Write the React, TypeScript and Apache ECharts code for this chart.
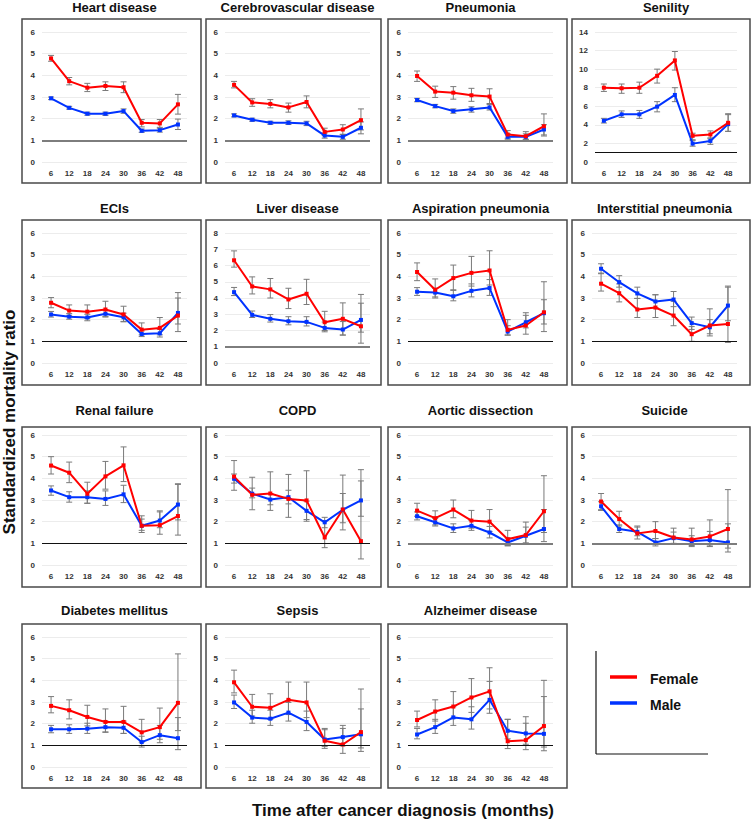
import React, { useEffect, useRef } from "react";
import * as echarts from "echarts";

// ---------- data ----------
const months = ["6", "12", "18", "24", "30", "36", "42", "48"];

// each point: [SMR, lower 95% CI, upper 95% CI]
const heartF = [[4.78, 4.65, 4.92], [3.73, 3.56, 3.9], [3.43, 3.25, 3.63], [3.51, 3.3, 3.7], [3.45, 3.2, 3.7], [1.81, 1.62, 1.96], [1.78, 1.6, 1.96], [2.66, 2.21, 3.12]];
const heartM = [[2.94, 2.88, 3.0], [2.5, 2.44, 2.57], [2.23, 2.16, 2.3], [2.23, 2.15, 2.3], [2.35, 2.25, 2.45], [1.44, 1.37, 1.52], [1.47, 1.38, 1.56], [1.73, 1.5, 1.98]];
const cerebroF = [[3.56, 3.42, 3.72], [2.75, 2.57, 2.92], [2.68, 2.5, 2.88], [2.52, 2.3, 2.72], [2.77, 2.5, 3.05], [1.39, 1.22, 1.56], [1.5, 1.28, 1.72], [1.93, 1.48, 2.45]];
const cerebroM = [[2.15, 2.08, 2.22], [1.95, 1.88, 2.02], [1.81, 1.74, 1.88], [1.81, 1.73, 1.9], [1.78, 1.68, 1.88], [1.22, 1.1, 1.34], [1.16, 1.05, 1.27], [1.58, 1.3, 1.85]];
const pneumoniaF = [[3.97, 3.72, 4.2], [3.25, 2.98, 3.5], [3.2, 2.9, 3.48], [3.08, 2.8, 3.4], [3.02, 2.7, 3.38], [1.27, 1.1, 1.45], [1.19, 1.05, 1.4], [1.65, 1.2, 2.22]];
const pneumoniaM = [[2.86, 2.78, 2.94], [2.58, 2.5, 2.66], [2.35, 2.25, 2.45], [2.43, 2.3, 2.55], [2.52, 2.4, 2.65], [1.16, 1.05, 1.3], [1.16, 1.03, 1.3], [1.5, 1.25, 1.72]];
const senilityF = [[8.0, 7.6, 8.4], [7.94, 7.4, 8.4], [8.0, 7.4, 8.6], [9.28, 8.5, 10.0], [10.94, 9.9, 11.9], [2.82, 2.4, 3.1], [2.96, 2.5, 3.35], [4.22, 3.3, 5.2]];
const senilityM = [[4.44, 4.2, 4.7], [5.13, 4.8, 5.5], [5.13, 4.7, 5.55], [5.96, 5.4, 6.5], [7.22, 6.5, 8.0], [1.98, 1.7, 2.3], [2.27, 1.9, 2.6], [4.08, 3.3, 5.1]];
const eciF = [[2.78, 2.55, 3.02], [2.42, 2.2, 2.68], [2.37, 2.05, 2.68], [2.47, 2.15, 2.85], [2.24, 1.9, 2.62], [1.54, 1.3, 1.85], [1.62, 1.3, 2.1], [2.19, 1.45, 3.25]];
const eciM = [[2.24, 2.12, 2.38], [2.14, 2.02, 2.28], [2.1, 1.95, 2.25], [2.27, 2.12, 2.42], [2.11, 1.92, 2.3], [1.34, 1.22, 1.48], [1.37, 1.2, 1.55], [2.31, 1.8, 3.0]];
const liverF = [[6.32, 5.9, 6.9], [4.71, 4.25, 5.3], [4.53, 4.0, 5.2], [3.91, 3.35, 4.6], [4.26, 3.6, 5.15], [2.51, 2.0, 3.18], [2.72, 1.72, 3.7], [2.26, 1.22, 4.22]];
const liverM = [[4.36, 4.15, 4.65], [2.96, 2.8, 3.2], [2.72, 2.52, 2.98], [2.57, 2.35, 2.85], [2.53, 2.28, 2.85], [2.16, 1.92, 2.52], [2.06, 1.72, 2.55], [2.65, 1.9, 3.68]];
const aspirationF = [[4.2, 3.8, 4.62], [3.38, 3.0, 3.88], [3.92, 3.35, 4.52], [4.16, 3.55, 4.92], [4.27, 3.6, 5.18], [1.53, 1.3, 2.0], [1.73, 1.33, 2.32], [2.34, 1.45, 3.75]];
const aspirationM = [[3.29, 3.12, 3.48], [3.25, 3.05, 3.45], [3.08, 2.87, 3.38], [3.33, 3.05, 3.65], [3.46, 3.12, 3.85], [1.45, 1.28, 1.72], [1.88, 1.62, 2.2], [2.3, 1.8, 2.92]];
const interstitialF = [[3.66, 3.32, 4.15], [3.22, 2.82, 3.65], [2.47, 2.1, 2.98], [2.56, 2.1, 3.15], [2.19, 1.72, 2.85], [1.33, 1.0, 1.68], [1.73, 1.25, 2.5], [1.8, 0.95, 3.5]];
const interstitialM = [[4.35, 4.12, 4.58], [3.73, 3.5, 4.03], [3.21, 2.98, 3.5], [2.84, 2.55, 3.15], [2.93, 2.6, 3.3], [1.84, 1.55, 2.12], [1.65, 1.35, 2.0], [2.65, 1.95, 3.55]];
const renalF = [[4.59, 4.2, 5.0], [4.26, 3.8, 4.75], [3.29, 2.85, 3.82], [4.09, 3.5, 4.78], [4.6, 3.85, 5.45], [1.81, 1.5, 2.27], [1.84, 1.42, 2.45], [2.26, 1.38, 3.75]];
const renalM = [[3.44, 3.22, 3.65], [3.13, 2.9, 3.38], [3.13, 2.85, 3.42], [3.05, 2.75, 3.42], [3.26, 2.88, 3.68], [1.81, 1.6, 2.12], [2.05, 1.72, 2.5], [2.79, 2.08, 3.72]];
const copdF = [[4.08, 3.45, 4.82], [3.24, 2.55, 4.05], [3.3, 2.52, 4.3], [3.05, 2.2, 4.18], [2.98, 2.02, 4.35], [1.27, 0.8, 2.05], [2.56, 1.62, 4.15], [1.1, 0.28, 4.4]];
const copdM = [[3.98, 3.78, 4.2], [3.29, 3.1, 3.55], [3.02, 2.78, 3.3], [3.13, 2.82, 3.45], [2.5, 2.1, 2.95], [1.97, 1.72, 2.2], [2.55, 1.95, 3.3], [2.98, 2.25, 3.88]];
const aorticF = [[2.51, 2.25, 2.85], [2.16, 1.85, 2.5], [2.56, 2.18, 3.0], [2.05, 1.7, 2.52], [2.0, 1.55, 2.56], [1.19, 0.9, 1.6], [1.38, 1.0, 1.98], [2.48, 1.5, 4.12]];
const aorticM = [[2.25, 2.08, 2.45], [1.97, 1.8, 2.15], [1.69, 1.5, 1.9], [1.81, 1.6, 2.05], [1.5, 1.25, 1.78], [1.04, 0.88, 1.25], [1.35, 1.02, 1.75], [1.66, 1.08, 2.56]];
const suicideF = [[2.93, 2.55, 3.3], [2.12, 1.8, 2.48], [1.46, 1.2, 1.8], [1.57, 1.22, 2.0], [1.27, 0.98, 1.7], [1.18, 0.85, 1.7], [1.32, 0.88, 2.08], [1.66, 0.78, 3.48]];
const suicideM = [[2.71, 2.52, 2.92], [1.66, 1.5, 1.85], [1.53, 1.35, 1.75], [1.04, 0.88, 1.22], [1.24, 1.0, 1.52], [1.1, 0.9, 1.35], [1.15, 0.85, 1.55], [1.04, 0.6, 1.9]];
const diabetesF = [[2.82, 2.5, 3.25], [2.62, 2.22, 3.1], [2.31, 1.9, 2.85], [2.08, 1.62, 2.68], [2.08, 1.55, 2.8], [1.6, 1.15, 2.2], [1.84, 1.28, 2.72], [2.96, 1.68, 5.22]];
const diabetesM = [[1.74, 1.58, 1.92], [1.74, 1.55, 1.95], [1.77, 1.55, 2.02], [1.84, 1.6, 2.12], [1.81, 1.55, 2.12], [1.15, 0.92, 1.42], [1.47, 1.12, 1.92], [1.33, 0.8, 2.28]];
const sepsisF = [[3.91, 3.42, 4.47], [2.78, 2.35, 3.35], [2.73, 2.2, 3.38], [3.1, 2.42, 3.92], [2.98, 2.28, 3.92], [1.21, 0.86, 1.78], [1.04, 0.63, 1.78], [1.61, 0.72, 3.6]];
const sepsisM = [[2.98, 2.7, 3.32], [2.28, 2.02, 2.62], [2.23, 1.92, 2.62], [2.51, 2.12, 2.98], [2.08, 1.68, 2.58], [1.27, 0.95, 1.72], [1.38, 0.98, 1.92], [1.51, 0.88, 2.68]];
const alzF = [[2.17, 1.85, 2.58], [2.56, 2.12, 3.1], [2.79, 2.25, 3.48], [3.21, 2.52, 4.08], [3.49, 2.68, 4.58], [1.19, 0.85, 2.2], [1.24, 0.8, 2.02], [1.89, 0.92, 4.0]];
const alzM = [[1.5, 1.3, 1.78], [1.84, 1.55, 2.2], [2.29, 1.92, 2.78], [2.2, 1.75, 2.78], [3.1, 2.48, 3.95], [1.67, 1.3, 2.2], [1.55, 1.05, 2.32], [1.53, 0.75, 3.25]];

const titles = [
  "Heart disease", "Cerebrovascular disease", "Pneumonia", "Senility",
  "ECIs", "Liver disease", "Aspiration pneumonia", "Interstitial pneumonia",
  "Renal failure", "COPD", "Aortic dissection", "Suicide",
  "Diabetes mellitus", "Sepsis", "Alzheimer disease",
];
const femaleSets = [heartF, cerebroF, pneumoniaF, senilityF, eciF, liverF, aspirationF, interstitialF, renalF, copdF, aorticF, suicideF, diabetesF, sepsisF, alzF];
const maleSets = [heartM, cerebroM, pneumoniaM, senilityM, eciM, liverM, aspirationM, interstitialM, renalM, copdM, aorticM, suicideM, diabetesM, sepsisM, alzM];
const yMaxes = [6, 6, 6, 14, 6, 8, 6, 6, 6, 6, 6, 6, 6, 6, 6];
const ySteps = [1, 1, 1, 2, 1, 1, 1, 1, 1, 1, 1, 1, 1, 1, 1];
const legendNames = ["Female", "Male"];
const yTitle = "Standardized mortality ratio";
const xTitle = "Time after cancer diagnosis (months)";

// ---------- layout / style ----------
const FONT = "'Liberation Sans', Arial, Helvetica, sans-serif";
const RED = "#ff0000";
const BLUE = "#0033ff";
const boxLeft = [22, 206, 388, 572];
const boxWidth = [179, 175, 179, 178];
const gridLeft = [42, 225, 408, 592];
const boxTop = [19, 220, 427, 624];
const boxBottom = [183, 385, 587, 788];
const gridTop = [32, 233, 435, 637];
const titleY = [7, 208, 410, 610];
const GRID_W = 145;
const GRID_H = 130;
const grayRefPanels = [0, 1, 2, 5, 10, 11];

export default function App() {
  const ref = useRef<HTMLDivElement>(null);

  useEffect(() => {
    if (!ref.current) return;
    const chart = echarts.init(ref.current, undefined, { renderer: "svg" });

    const grids: any[] = [];
    const xAxes: any[] = [];
    const yAxes: any[] = [];
    const series: any[] = [];
    const graphics: any[] = [];

    titles.forEach((title, i) => {
      const row = Math.floor(i / 4);
      const col = i % 4;
      const isSen = yMaxes[i] > 9;
      const gl = isSen ? gridLeft[col] + 3 : gridLeft[col];
      const gw = isSen ? GRID_W - 3 : GRID_W;
      grids.push({ left: gl, top: gridTop[row], width: gw, height: GRID_H, containLabel: false });
      xAxes.push({
        type: "category",
        gridIndex: i,
        data: months,
        boundaryGap: true,
        axisLine: { show: false },
        axisTick: { show: false },
        splitLine: { show: false },
        axisLabel: { fontSize: 8, fontWeight: "bold", color: "#333", fontFamily: FONT, margin: 7 },
      });
      yAxes.push({
        type: "value",
        gridIndex: i,
        min: 0,
        max: yMaxes[i],
        interval: ySteps[i],
        axisLine: { show: false },
        axisTick: { show: false },
        splitLine: { lineStyle: { color: "#ececec", width: 1 } },
        axisLabel: { fontSize: 8, fontWeight: "bold", color: "#333", fontFamily: FONT, margin: 7 },
      });

      const gray = grayRefPanels.includes(i);
      const errSeries = (set: number[][], withRef: boolean) => ({
        type: "custom",
        xAxisIndex: i,
        yAxisIndex: i,
        silent: true,
        z: 2,
        data: set.map((d, k) => [k, d[1], d[2]]),
        encode: { x: 0, y: [1, 2] },
        renderItem: (_p: any, api: any) => {
          const x = api.value(0);
          const lo = api.coord([x, api.value(1)]);
          const hi = api.coord([x, api.value(2)]);
          const cw = 3;
          const st = { stroke: "#7a7a7a", lineWidth: 1 };
          return {
            type: "group",
            children: [
              { type: "line", shape: { x1: lo[0], y1: lo[1], x2: hi[0], y2: hi[1] }, style: st },
              { type: "line", shape: { x1: lo[0] - cw, y1: lo[1], x2: lo[0] + cw, y2: lo[1] }, style: st },
              { type: "line", shape: { x1: hi[0] - cw, y1: hi[1], x2: hi[0] + cw, y2: hi[1] }, style: st },
            ],
          };
        },
        markLine: withRef
          ? {
              silent: true,
              symbol: "none",
              label: { show: false },
              lineStyle: gray
                ? { color: "#7d7d7d", width: 2.2, type: "solid" }
                : { color: "#111", width: 1, type: "solid" },
              data: [{ yAxis: 1 }],
            }
          : undefined,
      });
      series.push(errSeries(maleSets[i], true));
      series.push(errSeries(femaleSets[i], false));

      const lineSeries = (set: number[][], color: string, name: string) => ({
        type: "line",
        name,
        xAxisIndex: i,
        yAxisIndex: i,
        data: set.map((d) => d[0]),
        symbol: "rect",
        symbolSize: 4,
        showSymbol: true,
        z: 3,
        lineStyle: { color, width: 2 },
        itemStyle: { color },
        silent: true,
      });
      series.push(lineSeries(maleSets[i], BLUE, legendNames[1]));
      series.push(lineSeries(femaleSets[i], RED, legendNames[0]));

      graphics.push({
        type: "rect",
        silent: true,
        z: 0,
        shape: { x: boxLeft[col], y: boxTop[row], width: boxWidth[col], height: boxBottom[row] - boxTop[row] },
        style: { fill: "none", stroke: "#4a4a4a", lineWidth: 1.5 },
      });
      graphics.push({
        type: "text",
        silent: true,
        x: gl + gw / 2,
        y: titleY[row],
        style: {
          text: title,
          fill: "#111",
          font: `bold 13px ${FONT}`,
          textAlign: "center",
          textVerticalAlign: "middle",
          align: "center",
          verticalAlign: "middle",
        },
      });
    });

    // axis titles
    graphics.push({
      type: "text",
      silent: true,
      x: 9,
      y: 422,
      rotation: Math.PI / 2,
      style: {
        text: yTitle,
        fill: "#111",
        font: `bold 17px ${FONT}`,
        textAlign: "center",
        textVerticalAlign: "middle",
        align: "center",
        verticalAlign: "middle",
      },
    });
    graphics.push({
      type: "text",
      silent: true,
      x: 403,
      y: 810,
      style: {
        text: xTitle,
        fill: "#111",
        font: `bold 17px ${FONT}`,
        textAlign: "center",
        textVerticalAlign: "middle",
        align: "center",
        verticalAlign: "middle",
      },
    });

    // legend
    graphics.push({ type: "line", silent: true, shape: { x1: 596, y1: 651, x2: 596, y2: 754 }, style: { stroke: "#111", lineWidth: 1.2 } });
    graphics.push({ type: "line", silent: true, shape: { x1: 596, y1: 754, x2: 708, y2: 754 }, style: { stroke: "#111", lineWidth: 1.2 } });
    [RED, BLUE].forEach((c, k) => {
      const y = 677 + k * 26;
      graphics.push({ type: "line", silent: true, shape: { x1: 610, y1: y, x2: 637, y2: y }, style: { stroke: c, lineWidth: 3.5 } });
      graphics.push({
        type: "text",
        silent: true,
        x: 650,
        y: y + 1.5,
        style: {
          text: legendNames[k],
          fill: "#111",
          font: `bold 14px ${FONT}`,
          textAlign: "left",
          textVerticalAlign: "middle",
          align: "left",
          verticalAlign: "middle",
        },
      });
    });

    chart.setOption({
      animation: false,
      backgroundColor: "#ffffff",
      textStyle: { fontFamily: FONT },
      grid: grids,
      xAxis: xAxes,
      yAxis: yAxes,
      series,
      graphic: graphics,
    });

    return () => chart.dispose();
  }, []);

  return (
    <div
      ref={ref}
      style={{ position: "fixed", left: 0, top: 0, width: 751, height: 821, background: "#fff" }}
    />
  );
}
